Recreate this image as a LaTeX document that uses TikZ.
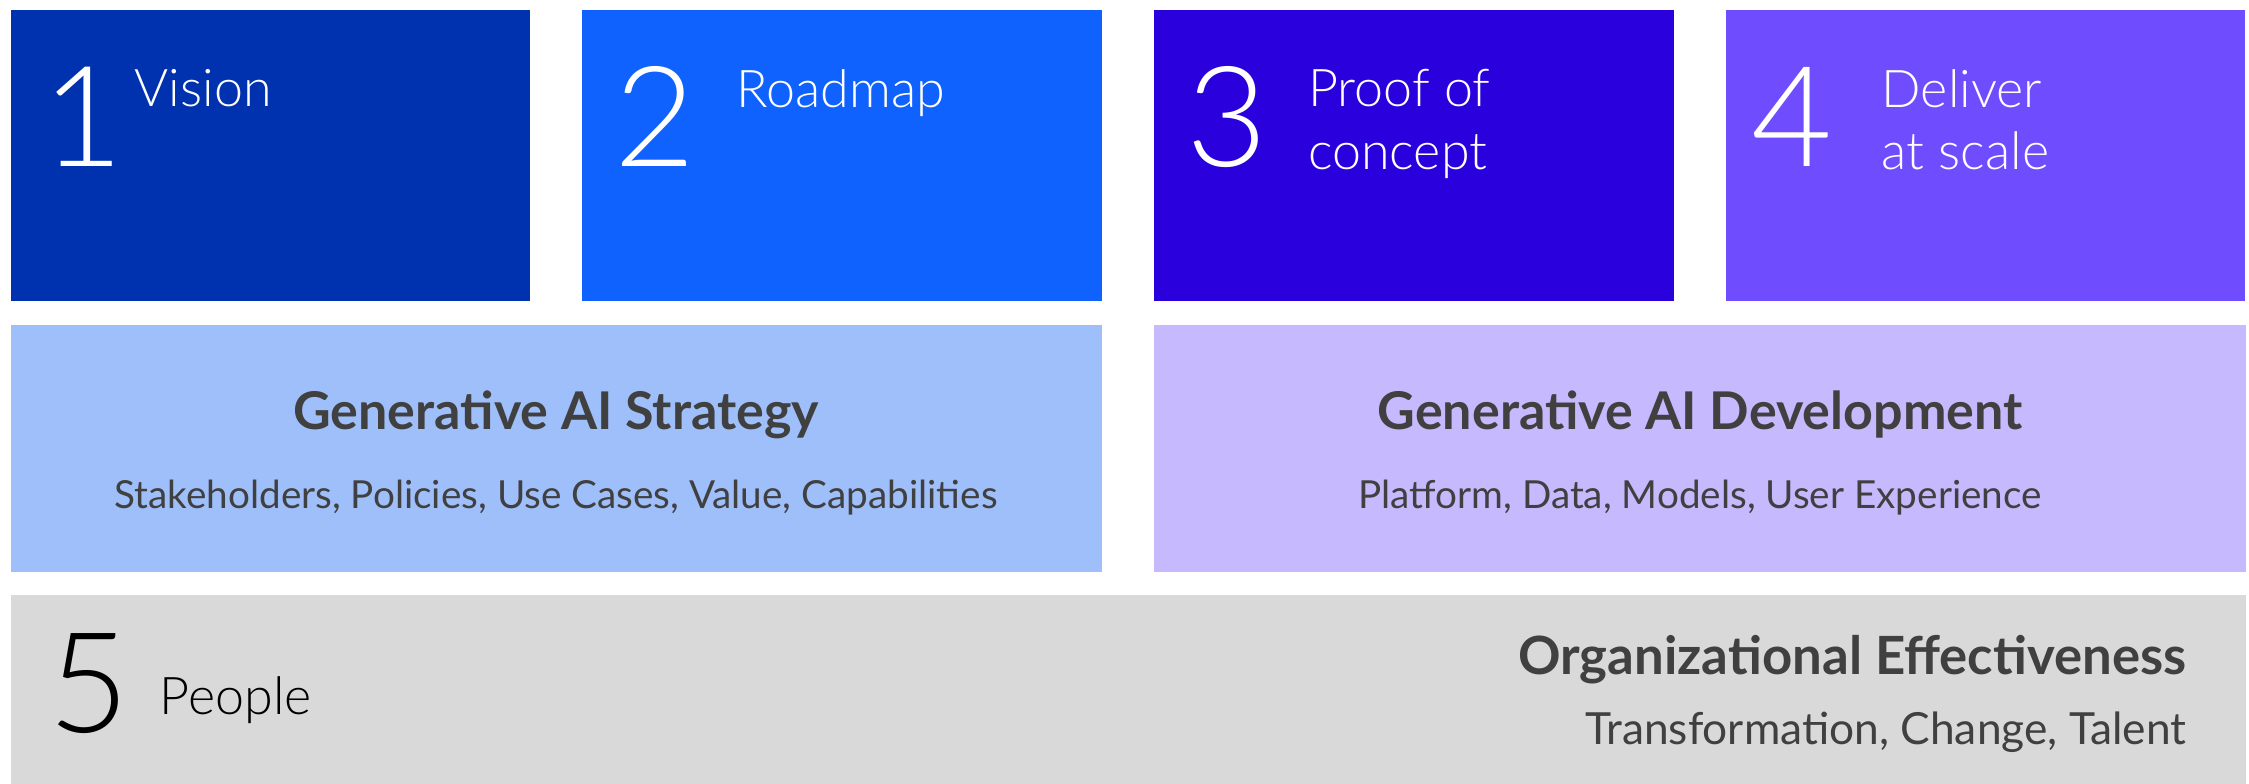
\documentclass[tikz,border=0pt]{standalone}
\usepackage{fontspec}
\setmainfont{Lato}
\IfFontExistsTF{Lato Light}{\newfontfamily\lightfont{Lato Light}}{\newfontfamily\lightfont{Lato}}
\usetikzlibrary{positioning,calc}

\definecolor{visionblue}{HTML}{0032B0}
\definecolor{roadblue}{HTML}{0F62FE}
\definecolor{proofblue}{HTML}{2A00DC}
\definecolor{deliverpurple}{HTML}{6F4DFF}
\definecolor{strategyblue}{HTML}{9FBFFB}
\definecolor{devpurple}{HTML}{C6B9FD}
\definecolor{peoplegray}{HTML}{D9D9D9}
\definecolor{textgray}{HTML}{404040}

\begin{document}
\begin{tikzpicture}[x=0.1mm,y=-0.1mm,
    stage/.style={inner sep=0,anchor=north west,minimum width=51.95mm,minimum height=29.1mm},
    num/.style={inner sep=0,anchor=base west,font=\lightfont\fontsize{39.8}{40}\selectfont},
    lbl/.style={inner sep=0,anchor=north west,align=left,font=\lightfont\fontsize{14.8}{17.7}\selectfont},
    head/.style={inner sep=0,text=textgray,font=\bfseries\fontsize{14.8}{17}\selectfont},
    sub/.style={inner sep=0,text=textgray,font=\fontsize{11}{13}\selectfont}]
  \useasboundingbox (0,0) rectangle (2249,783);

  % top row
  \node[stage,fill=visionblue] (s1) at (10,9) {};
  \node[stage,fill=roadblue] (s2) at (581.7,9) {};
  \node[stage,fill=proofblue] (s3) at (1153.4,9) {};
  \node[stage,fill=deliverpurple] (s4) at (1725.1,9) {};

  \node[num,text=white] (n1) at ($(s1.north west)+(32,157)$) {1};
  \node[num,text=white] (n2) at ($(s2.north west)+(32,157)$) {2};
  \node[num,text=white] (n3) at ($(s3.north west)+(32,157)$) {3};
  \node[num,text=white] (n4) at ($(s4.north west)+(26,157)$) {4};

  \node[lbl,text=white] (l1) at ($(s1.north west)+(124,60)$) {Vision};
  \node[lbl,text=white] (l2) at ($(s2.north west)+(154,60)$) {Roadmap};
  \node[lbl,text=white] (l3) at ($(s3.north west)+(154,60)$) {Proof of\\concept};
  \node[lbl,text=white] (l4) at ($(s4.north west)+(156,60)$) {Deliver\\at scale};

  % middle row
  \node[stage,fill=strategyblue,minimum width=109.1mm,minimum height=24.7mm] (strat) at (10,324) {};
  \node[stage,fill=devpurple,minimum width=109.2mm,minimum height=24.7mm] (dev) at (1153.4,324) {};

  \node[head,anchor=base] (strathead) at (strat.north |- 0,429) {Generative AI Strategy};
  \node[sub,anchor=base] (stratsub) at (strat.north |- 0,508) {Stakeholders, Policies, Use Cases, Value, Capabilities};
  \node[head,anchor=base] (devhead) at (dev.north |- 0,429) {Generative AI Development};
  \node[sub,anchor=base] (devsub) at (dev.north |- 0,508) {Platform, Data, Models, User Experience};

  % bottom row
  \node[stage,fill=peoplegray,minimum width=223.5mm,minimum height=18.9mm] (people) at (10,594) {};
  \node[num,text=black] (n5) at (48,732) {5};
  \node[lbl,text=black,anchor=base west] (l5) at (159,714) {People};

  \node[head,anchor=base east,font=\bfseries\fontsize{15}{18}\selectfont] (orghead) at (2187,674) {Organizational Effectiveness};
  \node[sub,anchor=base east,font=\fontsize{12.6}{15}\selectfont] (orgsub) at (2187,744) {Transformation, Change, Talent};
\end{tikzpicture}
\end{document}
